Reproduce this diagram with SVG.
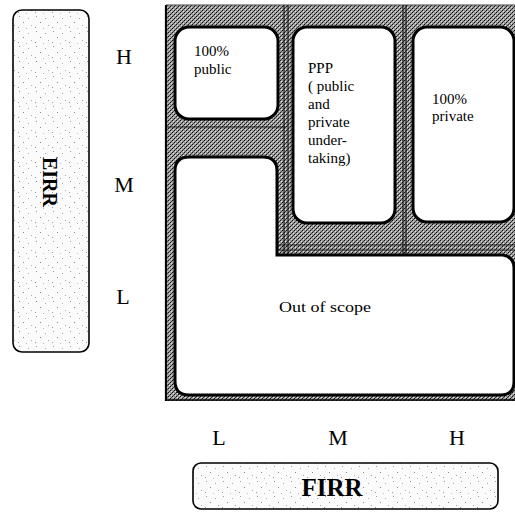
<svg xmlns="http://www.w3.org/2000/svg" width="515" height="517" viewBox="0 0 515 517">
<defs>
<pattern id="dither" width="4" height="4" patternUnits="userSpaceOnUse">
<rect width="4" height="4" fill="#9c9c9c"/>
<rect x="0" y="0" width="1" height="1" fill="#111"/>
<rect x="2" y="2" width="1" height="1" fill="#111"/>
<rect x="1" y="3" width="1" height="1" fill="#444"/>
<rect x="3" y="1" width="1" height="1" fill="#444"/>
<rect x="1" y="1" width="1" height="1" fill="#e0e0e0"/>
<rect x="3" y="3" width="1" height="1" fill="#e0e0e0"/>
</pattern>
<pattern id="stipple" width="17" height="15" patternUnits="userSpaceOnUse">
<rect width="17" height="15" fill="#fbfbfb"/>
<rect x="2" y="1" width="1" height="1" fill="#999"/>
<rect x="11" y="3" width="1" height="1" fill="#aaa"/>
<rect x="6" y="7" width="1" height="1" fill="#888"/>
<rect x="14" y="10" width="1" height="1" fill="#aaa"/>
<rect x="1" y="12" width="1" height="1" fill="#999"/>
<rect x="9" y="13" width="1" height="1" fill="#bbb"/>
</pattern>
<style>
.lbl{font-family:"Liberation Serif","Times New Roman",serif;fill:#000}
.axis{font-size:22px}
.cell{font-size:15px}
.frame{fill:url(#stipple);stroke:#000;stroke-width:1.6}
.cellbox{fill:#fff;stroke:#000;stroke-width:3}
.div{stroke:#1a1a1a;stroke-width:1.2;fill:none}
</style>
</defs>

<g id="eirr-axis">
<rect class="frame" x="13" y="10" width="76" height="342" rx="9"/>
<text class="lbl" font-size="20" font-weight="bold" transform="translate(50,182) rotate(90)" text-anchor="middle" dominant-baseline="central">EIRR</text>
</g>

<g id="row-labels">
<text class="lbl axis" x="124" y="56" text-anchor="middle" dominant-baseline="central">H</text>
<text class="lbl axis" x="124" y="184" text-anchor="middle" dominant-baseline="central">M</text>
<text class="lbl axis" x="123" y="296" text-anchor="middle" dominant-baseline="central">L</text>
</g>

<g id="matrix">
<rect x="166" y="5" width="349" height="396" fill="url(#dither)"/>
<line x1="166" y1="5" x2="166" y2="401" stroke="#000" stroke-width="2.2"/>
<line x1="166" y1="400" x2="515" y2="400" stroke="#000" stroke-width="1.5"/>
<line x1="166" y1="5" x2="515" y2="5" stroke="#444" stroke-width="1"/>
</g>

<g id="dividers">
<line class="div" x1="284" y1="5" x2="284" y2="255"/>
<line class="div" x1="288" y1="5" x2="288" y2="255"/>
<line class="div" x1="403" y1="5" x2="403" y2="255"/>
<line class="div" x1="406" y1="5" x2="406" y2="255"/>
<line class="div" x1="166" y1="127" x2="286" y2="127"/>
<line class="div" x1="277" y1="245" x2="515" y2="245"/>
<line class="div" x1="277" y1="250" x2="515" y2="250"/>
</g>

<g id="cell-public">
<rect class="cellbox" x="175" y="27" width="103" height="92" rx="14"/>
<text class="lbl cell" x="194" y="56">100%</text>
<text class="lbl cell" x="194" y="74">public</text>
</g>

<g id="cell-ppp">
<rect class="cellbox" x="293" y="27" width="102" height="196" rx="14"/>
<text class="lbl cell" x="308" y="73">PPP</text>
<text class="lbl cell" x="308" y="91">( public</text>
<text class="lbl cell" x="308" y="109">and</text>
<text class="lbl cell" x="308" y="127">private</text>
<text class="lbl cell" x="308" y="145">under-</text>
<text class="lbl cell" x="308" y="163">taking)</text>
</g>

<g id="cell-private">
<rect class="cellbox" x="413" y="27" width="101" height="195" rx="14"/>
<text class="lbl cell" x="432" y="104">100%</text>
<text class="lbl cell" x="432" y="121">private</text>
</g>

<g id="cell-out-of-scope">
<path class="cellbox" d="M175,171 Q175,157 189,157 L263,157 Q277,157 277,171 L277,255 L503,255 Q514,257 514,268 L514,382 Q514,395 500,395 L189,395 Q175,395 175,381 Z"/>
<text class="lbl cell" x="279" y="312" textLength="92" lengthAdjust="spacingAndGlyphs">Out of scope</text>
</g>

<g id="col-labels">
<text class="lbl axis" x="219" y="437" text-anchor="middle" dominant-baseline="central">L</text>
<text class="lbl axis" x="338" y="437" text-anchor="middle" dominant-baseline="central">M</text>
<text class="lbl axis" x="457" y="437" text-anchor="middle" dominant-baseline="central">H</text>
</g>

<g id="firr-axis">
<rect class="frame" x="193" y="463" width="305" height="46" rx="8"/>
<text class="lbl" font-size="25" font-weight="bold" x="332" y="487" text-anchor="middle" dominant-baseline="central">FIRR</text>
</g>
</svg>
